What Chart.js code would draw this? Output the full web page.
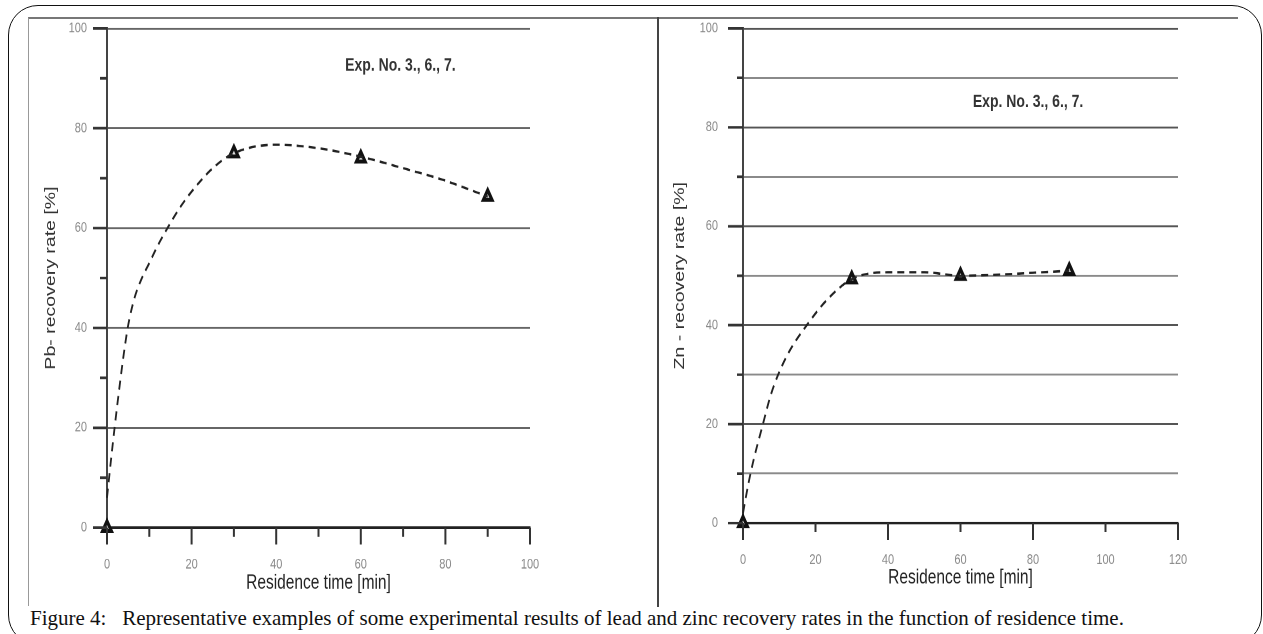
<!DOCTYPE html>
<html>
<head>
<meta charset="utf-8">
<script src="https://cdn.jsdelivr.net/npm/chart.js@4.4.1/dist/chart.umd.min.js"></script>
<style>
  html, body { margin: 0; padding: 0; background: #fff; width: 1263px; height: 634px; overflow: hidden; }
  .frame { position: absolute; left: 8px; top: 5px; width: 1254px; height: 640px; box-sizing: border-box;
           border: 1.5px solid #111; border-radius: 30px; }
  .inner { position: absolute; left: 28px; top: 17px; width: 1210px; height: 589px; box-sizing: border-box;
           border-top: 2px solid #777; border-left: 1.5px solid #999; }
  .divider { position: absolute; left: 657px; top: 17px; width: 2px; height: 590px; background: #444; }
  .panel { position: absolute; top: 18px; transform: scaleY(1.3); transform-origin: 0 0; }
  #left { left: 28px; }
  #right { left: 657px; }
  .caption { position: absolute; left: 30px; top: 607px; font-family: 'Liberation Serif', 'Times New Roman', serif;
             font-size: 21px; line-height: 22px; white-space: pre; color: #111; }
</style>
</head>
<body>
<div class="frame"></div>
<div class="inner"></div>
<div class="divider"></div>
<div class="panel" id="left"><canvas id="pbChart" width="629" height="452"></canvas></div>
<div class="panel" id="right"><canvas id="znChart" width="581" height="452"></canvas></div>
<div class="caption">Figure 4:   Representative examples of some experimental results of lead and zinc recovery rates in the function of residence time.</div>
<script>
// measured points (residence time [min] -> recovery rate [%])
const timeMeasured = [0, 30, 60, 90];
const pbMeasured = [0, 75, 74, 66.3];
const znMeasured = [0, 49.3, 50, 51];

// dashed fitted curves
const pbCurveX = [0, 1, 2, 3, 4, 5, 6.5, 8, 10, 12, 14.5, 17, 20, 25, 30, 40, 50, 60, 70, 80, 90];
const pbCurveY = [6, 14, 21.5, 28.5, 35, 40.5, 46, 49.5, 53, 56.5, 60.3, 63.8, 67.3, 72, 75, 76.7, 76, 74.3, 72, 69.5, 66.3];
const znCurveX = [0, 1.5, 3, 5.5, 7.5, 9.7, 13, 17.6, 23, 30, 40, 50, 60, 70, 80, 90];
const znCurveY = [2, 8, 13, 20, 25.5, 30, 35, 40, 45, 49.3, 50.7, 50.7, 50, 50.2, 50.6, 51];

const expNote = 'Exp. No. 3., 6., 7.';

Chart.defaults.font.family = "'Liberation Sans', Arial, sans-serif";
Chart.defaults.animation = false;

function toPoints(xs, ys) {
  return xs.map((x, i) => ({ x: x, y: ys[i] }));
}

// tick marks of two lengths + the experiment note
const axisMarks = {
  id: 'axisMarks',
  afterDraw(chart, args, opts) {
    const { ctx } = chart;
    const x = chart.scales.x, y = chart.scales.y;
    ctx.save();
    ctx.strokeStyle = '#333';
    ctx.lineWidth = 2;
    ctx.beginPath();
    for (let v = y.min; v <= y.max; v += 10) {
      const py = y.getPixelForValue(v);
      const len = v % 20 === 0 ? opts.yMajor : opts.yMinor;
      ctx.moveTo(x.left - len, py);
      ctx.lineTo(x.left, py);
    }
    for (let v = x.min; v <= x.max; v += opts.xStep) {
      const px = x.getPixelForValue(v);
      const len = v % opts.xMajor === 0 ? 13 : 7;
      ctx.moveTo(px, y.bottom);
      ctx.lineTo(px, y.bottom + len);
    }
    ctx.stroke();
    ctx.font = "bold 14px 'Liberation Sans', Arial, sans-serif";
    ctx.fillStyle = '#333';
    ctx.textBaseline = 'middle';
    ctx.fillText(opts.note, x.getPixelForValue(opts.noteAt[0]), y.getPixelForValue(opts.noteAt[1]));
    ctx.restore();
  }
};

function makeChart(id, cfg) {
  return new Chart(document.getElementById(id), {
    type: 'line',
    data: {
      datasets: [{
        data: toPoints(cfg.curveX, cfg.curveY),
        borderColor: '#222',
        borderWidth: 1.8,
        borderDash: [7, 5],
        cubicInterpolationMode: 'monotone',
        pointRadius: 0,
        fill: false,
        clip: false
      }, {
        data: toPoints(timeMeasured, cfg.measured),
        showLine: false,
        pointStyle: 'triangle',
        pointRadius: 5,
        borderColor: '#111',
        backgroundColor: '#ddd',
        borderWidth: 3,
        clip: false
      }]
    },
    options: {
      responsive: false,
      devicePixelRatio: 2,
      layout: { padding: { top: 6, right: cfg.padRight, left: 0, bottom: 0 } },
      plugins: {
        legend: { display: false },
        tooltip: { enabled: false },
        axisMarks: cfg.marks
      },
      scales: {
        x: {
          type: 'linear',
          min: 0,
          max: cfg.xMax,
          afterFit(s) { s.height = cfg.xHeight; },
          ticks: {
            stepSize: cfg.xLabelStep,
            autoSkip: false,
            maxRotation: 0,
            padding: 22,
            color: '#888',
            font: { size: 11 },
            callback: v => (v % 20 === 0 ? v : '')
          },
          grid: { display: false, drawTicks: false },
          border: { color: '#222', width: 2 },
          title: {
            display: true,
            text: 'Residence time [min]',
            color: '#222',
            font: { size: 15.5 },
            padding: { top: 0, bottom: cfg.xTitlePad }
          }
        },
        y: {
          type: 'linear',
          min: 0,
          max: 100,
          afterFit(s) {
            s.width = cfg.yWidth;
            s.paddingTop = 0;
            s.paddingBottom = 0;
          },
          ticks: {
            stepSize: 10,
            padding: cfg.yLabelPad,
            color: '#888',
            font: { size: 11 },
            callback: v => (v % 20 === 0 ? v : '')
          },
          grid: {
            drawTicks: false,
            lineWidth: 1.5,
            color: c => cfg.gridColor(c.tick.value)
          },
          border: { color: '#444', width: 2 },
          title: {
            display: true,
            text: cfg.yTitle,
            color: '#333',
            font: { size: 15 },
            padding: { top: 14, bottom: 0 }
          }
        }
      }
    },
    plugins: [axisMarks]
  });
}

makeChart('pbChart', {
  curveX: pbCurveX, curveY: pbCurveY, measured: pbMeasured,
  xMax: 100, xLabelStep: 10, padRight: 127, xHeight: 60, yWidth: 79,
  yLabelPad: 20, xTitlePad: 8,
  yTitle: 'Pb- recovery rate [%]',
  gridColor: v => (v > 0 && v % 20 === 0 ? '#666' : 'rgba(0,0,0,0)'),
  marks: { yMajor: 14, yMinor: 7, xStep: 10, xMajor: 20, note: expNote, noteAt: [56.3, 92.6] }
});

makeChart('znChart', {
  curveX: znCurveX, curveY: znCurveY, measured: znMeasured,
  xMax: 120, xLabelStep: 20, padRight: 60, xHeight: 63.5, yWidth: 86,
  yLabelPad: 25, xTitlePad: 12,
  yTitle: 'Zn - recovery rate [%]',
  gridColor: v => (v <= 0 ? 'rgba(0,0,0,0)' : (v % 20 === 0 ? '#555' : '#8a8a8a')),
  marks: { yMajor: 15, yMinor: 6, xStep: 20, xMajor: 40, note: expNote, noteAt: [63.4, 85.1] }
});
</script>
</body>
</html>
